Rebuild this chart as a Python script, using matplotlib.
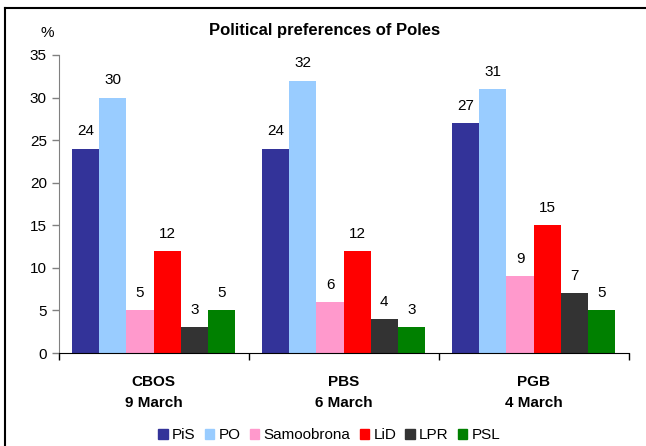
import matplotlib.pyplot as plt
from matplotlib.lines import Line2D
from matplotlib.patches import Patch
import numpy as np

plt.rcParams['font.family'] = ['Liberation Sans', 'DejaVu Sans']

groups = ['CBOS\n9 March', 'PBS\n6 March', 'PGB\n4 March']
parties = ['PiS', 'PO', 'Samoobrona', 'LiD', 'LPR', 'PSL']
colors = ['#333399', '#99CCFF', '#FF99CC', '#FF0000', '#333333', '#008000']
values = [
    [24, 24, 27],   # PiS
    [30, 32, 31],   # PO
    [5, 6, 9],      # Samoobrona
    [12, 12, 15],   # LiD
    [3, 4, 7],      # LPR
    [5, 3, 5],      # PSL
]

fig = plt.figure(figsize=(6.46, 4.46), dpi=100)
ax = fig.add_axes([0.0907, 0.2085, 0.8824, 0.6682])

x = np.arange(len(groups))
w = 0.857 / len(parties)
for k, (name, col, vals) in enumerate(zip(parties, colors, values)):
    pos = x - 0.857 / 2 + w * (k + 0.5)
    ax.bar(pos, vals, width=w, color=col, label=name)
    for p, v in zip(pos, vals):
        ax.text(p, v + 1.2, str(v), ha='center', va='bottom', fontsize=11)

ax.set_xlim(-0.5, len(groups) - 0.5)
ax.set_ylim(0, 35)
ax.set_yticks(range(0, 36, 5))
ax.set_xticks(np.arange(-0.5, len(groups)), minor=False)
ax.set_xticklabels([])
ax.tick_params(axis='x', length=5, width=1)
ax.tick_params(axis='y', length=5, width=1, labelsize=11, color='#808080')
for g, lab in zip(x, groups):
    ax.text(g, -2.6, lab, ha='center', va='top', fontsize=11,
            fontweight='bold', linespacing=1.6)

ax.spines['top'].set_visible(False)
ax.spines['right'].set_visible(False)
ax.spines['left'].set_color('#808080')

fig.text(0.073, 0.925, '%', ha='center', va='center', fontsize=11)
fig.text(0.503, 0.932, 'Political preferences of Poles', ha='center',
         va='center', fontsize=12, fontweight='bold')

handles = [Patch(color=c, label=p) for p, c in zip(parties, colors)]
fig.legend(handles=handles, loc='center', bbox_to_anchor=(0.51, 0.024),
           ncol=6, frameon=False, fontsize=11, handlelength=0.6,
           handleheight=0.6, handletextpad=0.3, columnspacing=0.6)

# frame around the chart
fig.add_artist(Line2D([5 / 646, 1], [1 - 8 / 446, 1 - 8 / 446],
                      transform=fig.transFigure, color='black', lw=1.5))
fig.add_artist(Line2D([5 / 646, 5 / 646], [0, 1 - 8 / 446],
                      transform=fig.transFigure, color='black', lw=1.5))

fig.savefig('out.png', dpi=100)
